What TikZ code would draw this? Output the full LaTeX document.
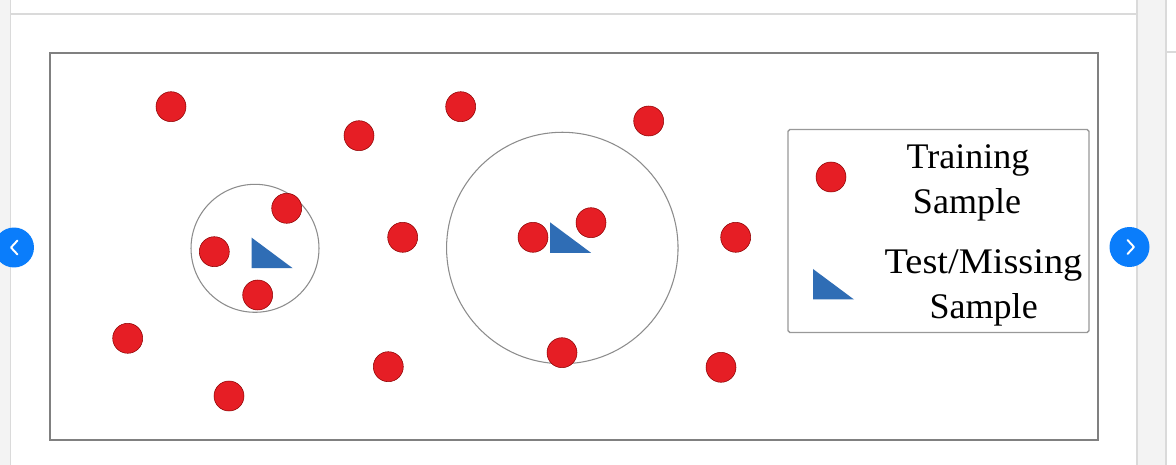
\documentclass[tikz,border=0pt]{standalone}
\usepackage{fontspec}
\setmainfont{Liberation Serif}
\usepackage{graphicx}
\usepackage{xcolor}
\usepackage{tikz}
\definecolor{samplered}{HTML}{E61E25}
\definecolor{sampleblue}{HTML}{2F6DB5}
\definecolor{navblue}{HTML}{0A7DFB}
\definecolor{pagegray}{HTML}{F3F3F3}
\definecolor{rulegray}{HTML}{DADADA}

\begin{document}
\begin{tikzpicture}[
    x=0.02cm, y=-0.02cm,
    train/.style={circle, fill=samplered, draw=red!55!black, line width=0.3pt, minimum size=0.6cm, inner sep=0pt},
    testtri/.style={fill=sampleblue},
    nbhd/.style={circle, draw=black!45, line width=0.6pt, inner sep=0pt},
    navbtn/.style={circle, fill=navblue, minimum size=0.8cm, inner sep=0pt},
    lbl/.style={anchor=base, inner sep=0pt, font=\fontsize{20.5}{24}\selectfont}
]
    % page around the figure
    \fill[white] (0,0) rectangle (1176,465);
    \useasboundingbox (0,0) rectangle (1176,465);
    \fill[pagegray] (0,0) rectangle (10,465);
    \fill[pagegray] (1137,0) rectangle (1166,465);
    \draw[rulegray, line width=0.6pt] (10.5,0) -- (10.5,465);
    \draw[rulegray, line width=0.6pt] (1137,0) -- (1137,465);
    \draw[rulegray, line width=0.6pt] (1166,0) -- (1166,465);
    \draw[rulegray, line width=0.6pt] (10.5,14) -- (1137,14);
    \draw[rulegray, line width=0.6pt] (1166,52) -- (1176,52);

    % figure frame
    \node[draw=black!50, line width=1.1pt, minimum width=20.96cm, minimum height=7.74cm, inner sep=0pt] (frame) at (574,246.5) {};

    % neighbourhoods
    \node[nbhd, minimum size=2.56cm] (nb1) at (255,248.3) {};
    \node[nbhd, minimum size=4.63cm] (nb2) at (562.3,248) {};

    % training samples
    \foreach \x/\y [count=\k] in {171/106.7, 359/135.7, 460.7/106.7, 648.7/121,
        286.7/208.3, 214.3/251.7, 257.7/295, 402.7/237.3, 533/237.3, 591/222.7,
        735.7/237.3, 127.7/338.3, 229/396, 388.3/366.7, 562/352.7, 721/367.3} {
        \node[train] (tr\k) at (\x,\y) {};
    }

    % test / missing samples
    \coordinate (te1) at (251.7,237.7);
    \coordinate (te2) at (550,222.3);
    \coordinate (keyte) at (813,269);
    \foreach \t in {te1,te2,keyte} {
        \fill[testtri] (\t) -- ++(0,30.5) -- ++(41,0) -- cycle;
    }

    % legend
    \node[draw=black!40, line width=0.8pt, rounded corners=1pt, minimum width=6.02cm, minimum height=4.06cm, inner sep=0pt] (legend) at (938.5,231) {};
    \node[train] (keytr) at (831,177) {};
    \node[lbl] (keytr1) at (968,169) {Training};
    \node[lbl] (keytr2) at (967,213.5) {Sample};
    \node[lbl] (keyte1) at (983.5,273.3) {\scalebox{1.065}[1]{Test/Missing}};
    \node[lbl] (keyte2) at (983.7,319) {Sample};

    % carousel buttons
    \node[navbtn] (prev) at (14,247.5) {};
    \node[navbtn] (next) at (1129.5,247) {};
    \draw[white, line width=1.1pt, line cap=round, line join=round] (17.5,240.5) -- (11,247.5) -- (17.5,254.5);
    \draw[white, line width=1.1pt, line cap=round, line join=round] (1127.5,240) -- (1134,247) -- (1127.5,254);
\end{tikzpicture}
\end{document}
